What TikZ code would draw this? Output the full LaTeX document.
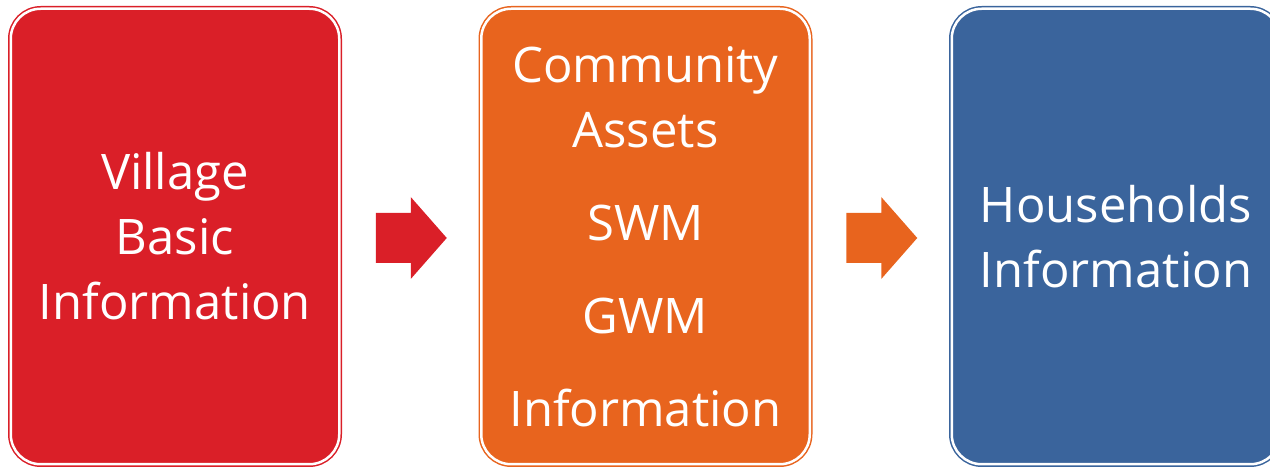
\documentclass[tikz,border=0pt]{standalone}
\usepackage{fontspec}
\setmainfont{Open Sans}
\usetikzlibrary{positioning,calc}

\definecolor{boxred}{HTML}{DA1F28}
\definecolor{boxorange}{HTML}{E8641E}
\definecolor{boxblue}{HTML}{3A649C}

\tikzset{
  infobox/.style={draw=#1, fill=#1, double=white, double distance=2.5pt,
    line width=1.5pt, rounded corners=30pt, minimum width=328.5pt,
    minimum height=455.5pt, inner sep=0pt, align=center, text=white,
    font=\fontsize{49}{65}\selectfont},
  flowarrow/.style={fill=#1, draw=none}
}

\begin{document}
\begin{tikzpicture}[x=1pt,y=1pt]
        \useasboundingbox (0,0) rectangle (1270,468);

        % Boxes
        \node[infobox=boxred] (village) at (175,231.5) {Village\\Basic\\Information};
        \node[infobox=boxorange, right=140.5pt of village] (assets)
          {Community\\Assets\\[28pt]SWM\\[28pt]GWM\\[28pt]Information};
        \node[infobox=boxblue, right=140.5pt of assets] (households) {Households\\Information};

        % Arrows between boxes
        \coordinate (arrowA) at ($(village.east)!0.5!(assets.west)+(1,-1.5)$);
        \coordinate (arrowB) at ($(assets.east)!0.5!(households.west)+(1,-1.5)$);
        \foreach \pos/\col in {arrowA/boxred, arrowB/boxorange}
          \fill[flowarrow=\col, shift={(\pos)}]
            (-35.5,-25) -- (-0.5,-25) -- (-0.5,-41) -- (35.5,0)
            -- (-0.5,41) -- (-0.5,25) -- (-35.5,25) -- cycle;

\end{tikzpicture}
\end{document}
